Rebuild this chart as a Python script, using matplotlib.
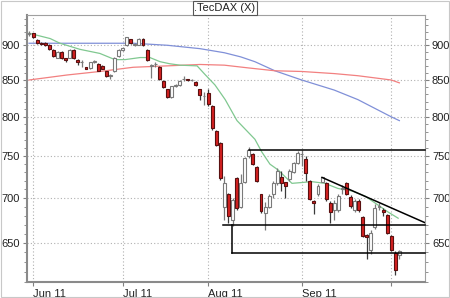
import matplotlib
matplotlib.use("Agg")
import matplotlib.pyplot as plt
from matplotlib.ticker import FixedLocator, NullFormatter, FixedFormatter
import numpy as np

plt.rcParams['font.family'] = ['Liberation Sans', 'DejaVu Sans']

# ---- candle data (trading-day index 0..91) ----
opens = [917, 918, 908, 904, 903, 901, 893, 882, 890, 881,
         882, 893, 879, 875, 868, 867, 876, 873, 870, 862,
         856, 862, 884, 893, 900, 909, 901, 901, 910, 893,
         870, 872, 869, 849, 837, 826, 842, 843, 851, 851,
         850, 847, 837, 828, 832, 815, 781, 766, 690, 704,
         675, 723, 690, 719, 750, 752, 737, 704, 683, 690,
         704, 717, 724, 718, 722, 730, 741, 752, 746, 720,
         696, 704, 719, 717, 694, 686, 686, 710, 717, 701,
         686, 697, 678, 659, 643, 667, 690, 686, 681, 657,
         639, 637]
closes = [918, 912, 903, 902, 901, 895, 884, 890, 881, 878,
          893, 881, 875, 876, 866, 875, 877, 863, 866, 856,
          857, 882, 893, 896, 912, 903, 902, 910, 900, 878,
          871, 873, 851, 840, 826, 841, 843, 849, 852, 850,
          850.5, 843, 829, 828.5, 817, 785, 764, 723, 717, 680,
          698, 688, 717, 747, 757, 740, 720, 685, 690, 702,
          717, 732, 717, 714, 732, 741, 754, 753, 729, 699,
          694, 714, 724, 699, 684, 694, 702, 711, 705, 691,
          697, 686, 657, 656, 661, 688, 691, 684, 661, 643,
          622, 641]
highs = [921, 919, 909, 905, 905, 902, 894, 891, 891, 882,
         894, 894, 880, 878, 869, 876, 878, 874, 871, 863,
         859, 883, 894, 898, 913, 910, 904, 911, 911, 894,
         873, 875, 870, 850, 838, 842, 845, 850, 855, 852,
         851, 848, 838, 834, 837, 816, 783, 768, 726, 706,
         700, 725, 728, 749, 761, 754, 738, 705, 695, 704,
         720, 735, 732, 719, 734, 743, 756, 757, 750, 721,
         698, 716, 725, 718, 696, 698, 704, 715, 719, 703,
         699, 699, 679, 660, 664, 693, 694, 688, 682, 658,
         641, 643]
lows = [914, 911, 902, 900, 899, 893, 883, 881, 880, 876,
        881, 880, 871, 868, 865, 866, 874, 862, 865, 854,
        851, 861, 883, 892, 899, 902, 899, 900, 899, 877,
        853, 868, 850, 839, 825, 825, 840, 842, 849, 848,
        849, 842, 823, 816, 815, 783, 762, 721, 675, 672,
        668, 686, 688, 717, 748, 739, 719, 683, 664, 688,
        700, 715, 708, 700, 720, 729, 740, 738, 720, 698,
        682, 702, 718, 697, 672, 675, 684, 705, 703, 689,
        684, 684, 656, 633, 638, 665, 686, 680, 660, 641,
        617, 633]

# ---- moving averages (read at sample positions) ----
green_idx = [0, 5.2, 7.6, 12.5, 17.4, 21.1, 23.6, 27.3, 29.7, 32.2, 34.6, 37.1,
             41.3, 43.2, 45.7, 48.2, 51.1, 53.1, 55.5, 57.2, 59.2, 61.2, 64.6,
             67.1, 69.5, 72.7, 75.9, 79.4, 82.6, 85.7, 88.2, 90.7]
green_val = [918, 910, 903, 894, 888, 879, 879, 882, 882, 876, 873, 871,
             870, 858, 843, 823, 795, 784, 771, 755, 740, 733, 717,
             718, 719, 717, 711, 708, 702, 692, 684, 677]
blue_idx = [0, 25.6, 34, 42, 48, 52, 55.5, 60.4, 67, 75, 80.8, 89, 91]
blue_val = [903, 903, 900, 895, 889, 883, 876, 863, 850, 836, 823, 800, 795]
red_idx = [0, 9.3, 17.4, 25.6, 34, 42, 48, 54, 60.4, 67, 75, 80.8, 89, 91]
red_val = [850, 857, 862, 868, 870, 872, 871, 867, 863, 862, 859, 856, 850, 846]

# ---- drawn support / resistance lines ----
hline_levels = [757, 670, 639]
hline_starts = [54, 47.7, 49.9]
trend_idx = [72, 97.3]
trend_val = [724, 672]

# ---- axis ticks ----
month_idx = [1, 23, 44, 67, 89]
month_labels = ["Jun 11", "Jul 11", "Aug 11", "Sep 11", ""]
y_ticks = [650, 700, 750, 800, 850, 900]

fig = plt.figure(figsize=(4.5, 2.98), dpi=100)
ax = fig.add_axes([27/450, 1-282/298, (425-27)/450, (282-15)/298])
ax.set_yscale('log')
ax.set_xlim(-0.5, 97.3)
ax.set_ylim(609.5, 946)

n = len(opens)
idx = np.arange(n)
o = np.array(opens, float); c = np.array(closes, float)
h = np.array(highs, float); l = np.array(lows, float)
up = c >= o
width = 0.72

# wicks
ax.vlines(idx[up], l[up], h[up], color='#7a7a7a', lw=0.9, zorder=3)
ax.vlines(idx[~up], l[~up], h[~up], color='#3a3a3a', lw=0.9, zorder=3)
# bodies
ax.bar(idx[up], np.maximum(c[up]-o[up], 0.3), bottom=o[up], width=width,
       color='white', edgecolor='#7a7a7a', linewidth=0.8, zorder=4)
ax.bar(idx[~up], o[~up]-c[~up], bottom=c[~up], width=width,
       color='#d42020', edgecolor='#5a1010', linewidth=0.8, zorder=4)

# moving averages
ax.plot(blue_idx, blue_val, color='#8090d8', lw=0.9, zorder=2)
ax.plot(red_idx, red_val, color='#f28080', lw=0.9, zorder=2)
ax.plot(green_idx, green_val, color='#80c890', lw=0.9, zorder=2)

# support/resistance
xmax = ax.get_xlim()[1]
for lev, st in zip(hline_levels, hline_starts):
    ax.plot([st, xmax], [lev, lev], color='black', lw=1.1, zorder=5, clip_on=False)
ax.plot([hline_starts[2], hline_starts[2]], [hline_levels[1], hline_levels[2]],
        color='black', lw=1.1, zorder=5)
ax.plot(trend_idx, trend_val, color='black', lw=1.1, zorder=5)

# ticks
ax.yaxis.set_major_locator(FixedLocator(y_ticks))
ax.yaxis.set_major_formatter(FixedFormatter([str(v) for v in y_ticks]))
ax.yaxis.set_minor_locator(FixedLocator(list(range(610, 950, 10))))
ax.yaxis.set_minor_formatter(NullFormatter())
ax.set_xticks(month_idx)
ax.set_xticklabels(month_labels, ha='left')
ax.tick_params(axis='y', which='major', left=True, right=True, labelleft=True,
               labelright=True, labelsize=8, length=3, color='#808080',
               pad=2, labelcolor='#222222')
ax.tick_params(axis='y', which='minor', left=True, right=True, length=2,
               color='#808080')
ax.tick_params(axis='x', which='major', labelsize=8, length=3, color='#808080',
               pad=2, labelcolor='#222222')
ax.grid(True, which='major', linestyle=(0, (1, 2)), color='#b0b0b0', lw=0.8)
ax.set_axisbelow(True)
for s in ['left', 'bottom']:
    ax.spines[s].set_color('#8a8a8a'); ax.spines[s].set_linewidth(1.5)
for s in ['top', 'right']:
    ax.spines[s].set_color('#a0a0a0'); ax.spines[s].set_linewidth(0.8)

fig.text(0.5, 1-8/298, ".TecDAX (X)", ha='center', va='center', fontsize=8,
         color='#222222',
         bbox=dict(boxstyle='square,pad=0.15', facecolor='white',
                   edgecolor='#555555', linewidth=0.8))

# outer frame
fig.patches.append(plt.Rectangle((0.003, 0.004), 0.994, 0.992, transform=fig.transFigure,
                                 fill=False, edgecolor='#c8c8c8', lw=0.8))

fig.savefig("out.png", dpi=100)
